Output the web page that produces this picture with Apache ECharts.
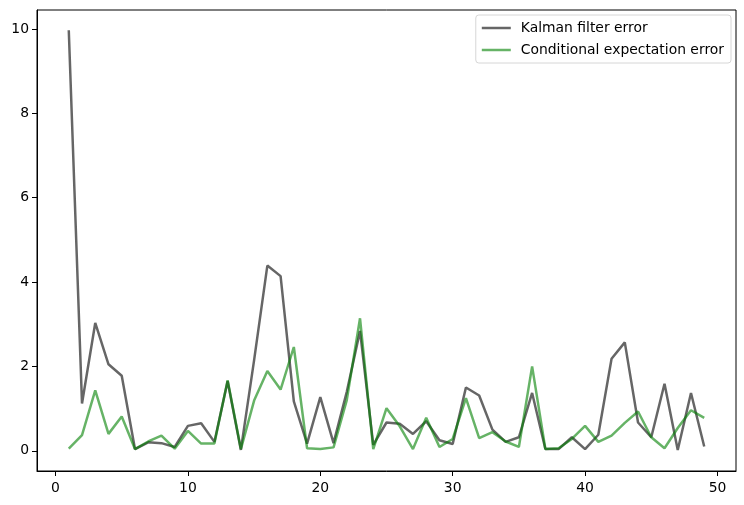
<!DOCTYPE html>
<html>
<head>
<meta charset="utf-8">
<script src="https://cdn.jsdelivr.net/npm/echarts@6/dist/echarts.min.js"></script>
<style>
html,body{margin:0;padding:0;background:#fff;}
#chart{width:744px;height:505px;}
</style>
</head>
<body>
<div id="chart"></div>
<script>
var steps = [1,2,3,4,5,6,7,8,9,10,11,12,13,14,15,16,17,18,19,20,21,22,23,24,25,26,27,28,29,30,31,32,33,34,35,36,37,38,39,40,41,42,43,44,45,46,47,48,49];
var kalmanError = [9.97,1.12,3.03,2.05,1.78,0.04,0.20,0.18,0.09,0.59,0.65,0.21,1.65,0.02,2.15,4.39,4.14,1.17,0.17,1.27,0.18,1.40,2.84,0.14,0.67,0.64,0.40,0.70,0.25,0.16,1.50,1.31,0.50,0.21,0.32,1.37,0.04,0.04,0.32,0.04,0.38,2.18,2.57,0.67,0.32,1.59,0.02,1.37,0.10];
var condExpError = [0.05,0.37,1.43,0.40,0.81,0.04,0.22,0.36,0.05,0.47,0.17,0.17,1.67,0.04,1.19,1.89,1.45,2.46,0.06,0.04,0.08,1.20,3.14,0.04,1.01,0.58,0.04,0.78,0.09,0.28,1.25,0.30,0.44,0.22,0.09,2.00,0.04,0.06,0.28,0.59,0.21,0.36,0.66,0.93,0.32,0.06,0.54,0.96,0.78];
var xTicks = [0,10,20,30,40,50];
var yTicks = [0,2,4,6,8,10];
var seriesNames = ['Kalman filter error','Conditional expectation error'];

function pairs(xs, ys){ return xs.map(function(x,i){ return [x, ys[i]]; }); }

var font = 'DejaVu Sans';
var chart = echarts.init(document.getElementById('chart'), null, {renderer:'canvas'});
chart.setOption({
  animation:false,
  backgroundColor:'#fff',
  grid:{left:37, right:8, top:10, bottom:34, show:true, borderColor:'#000', borderWidth:1, backgroundColor:'transparent'},
  legend:{
    right:13, top:15, orient:'vertical',
    data:seriesNames,
    icon:'rect', itemWidth:29, itemHeight:2.5, itemGap:8,
    backgroundColor:'rgba(255,255,255,0.8)', borderColor:'#d6d6d6', borderWidth:1, borderRadius:3,
    padding:[6,7,6,6],
    textStyle:{fontFamily:font, fontSize:13.9, color:'#000', padding:[0,0,0,5]}
  },
  xAxis:{
    type:'value', min:-1.4, max:51.4,
    splitLine:{show:false},
    axisLine:{show:true, onZero:false, lineStyle:{color:'#000', width:1}},
    axisTick:{show:true, length:5, customValues:xTicks, lineStyle:{color:'#000'}},
    axisLabel:{customValues:xTicks, fontFamily:font, fontSize:13.9, color:'#000', margin:10},
  },
  yAxis:{
    type:'value', min:-0.48, max:10.45,
    splitLine:{show:false},
    axisLine:{show:true, onZero:false, lineStyle:{color:'#000', width:1}},
    axisTick:{show:true, length:5, customValues:yTicks, lineStyle:{color:'#000'}},
    axisLabel:{customValues:yTicks, fontFamily:font, fontSize:13.9, color:'#000', margin:8},
  },
  series:[
    {name:seriesNames[0], type:'line', data:pairs(steps,kalmanError), showSymbol:false, symbol:'none',
     lineStyle:{width:2.5, color:'rgba(0,0,0,0.6)'}, itemStyle:{color:'rgba(0,0,0,0.6)'}},
    {name:seriesNames[1], type:'line', data:pairs(steps,condExpError), showSymbol:false, symbol:'none',
     lineStyle:{width:2.5, color:'rgba(0,128,0,0.6)'}, itemStyle:{color:'rgba(0,128,0,0.6)'}}
  ]
});
</script>
</body>
</html>
